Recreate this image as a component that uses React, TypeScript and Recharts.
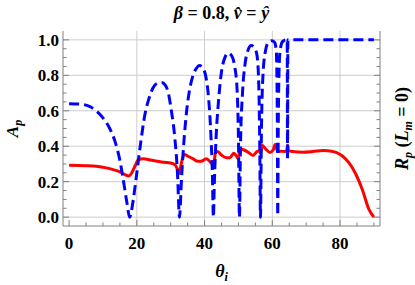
import React from "react";
import { LineChart, Line, XAxis, YAxis, CartesianGrid, Label } from "recharts";

// A_p (blue dashed) vs theta_i
const apTheta = [
  0, 3, 6, 8, 10, 12, 13.5, 15, 16, 17, 17.9, 18.8, 19.8, 21, 22.4, 23.6, 24.8, 26, 27.3, 28.4,
  29.3, 30.2, 31.2, 32, 32.6, 33.2, 33.8, 34.6, 35.5, 36.6, 37.6, 38.5, 39.5, 40.4, 41.2, 41.9,
  42.3, 42.6, 42.9, 43.4, 44.1, 45, 46, 47, 48, 48.9, 49.6, 50, 50.3, 50.6, 51.2, 52, 52.8, 53.8,
  54.8, 55.5, 56, 56.3, 56.5, 56.8, 57.3, 58, 58.8, 59.8, 60.7, 61.2, 61.5, 61.6, 61.8, 62.2, 63,
  64, 64.4, 64.5, 64.6, 66, 70, 80, 90,
];
const apValues = [
  0.64, 0.638, 0.625, 0.6, 0.56, 0.5, 0.43, 0.32, 0.21, 0.09, 0.0, 0.08, 0.22, 0.4, 0.58, 0.67,
  0.73, 0.755, 0.76, 0.745, 0.7, 0.6, 0.45, 0.25, 0.0, 0.22, 0.4, 0.58, 0.71, 0.8, 0.84, 0.855,
  0.84, 0.79, 0.67, 0.45, 0.25, 0.0, 0.2, 0.45, 0.65, 0.82, 0.9, 0.925, 0.91, 0.85, 0.72, 0.45,
  0.0, 0.4, 0.7, 0.87, 0.94, 0.968, 0.955, 0.91, 0.75, 0.4, 0.0, 0.5, 0.82, 0.94, 0.985, 0.995,
  0.985, 0.93, 0.5, 0.01, 0.6, 0.92, 0.99, 1.0, 1.0, 0.33, 1.0, 1.0, 1.0, 1.0, 1.0,
];

// R_p (red solid) vs theta_i
const rpTheta = [
  0, 5, 8, 11, 13, 15, 16.5, 17.6, 18.5, 19.5, 20.5, 22, 24, 26, 28, 30, 31.3, 32, 32.5, 33.1, 34,
  35, 36.5, 38, 39, 40.5, 41.5, 42.2, 42.6, 43.2, 43.8, 45, 46.5, 47.5, 48.6, 49.4, 50, 50.4, 51.5,
  53, 54.3, 55.5, 56.2, 56.5, 57, 58, 59.3, 60.3, 60.8, 61.4, 61.6, 62.5, 63.8, 64.3, 64.5, 64.8,
  66, 69, 72, 75, 77.5, 79, 80.7, 82.6, 84.6, 86.6, 88.5, 90,
];
const rpValues = [
  0.292, 0.29, 0.287, 0.278, 0.268, 0.255, 0.24, 0.232, 0.25, 0.29, 0.325, 0.33, 0.322, 0.315,
  0.31, 0.305, 0.295, 0.27, 0.245, 0.3, 0.354, 0.345, 0.33, 0.315, 0.315, 0.33, 0.315, 0.3, 0.285,
  0.36, 0.37, 0.35, 0.335, 0.335, 0.36, 0.345, 0.33, 0.385, 0.38, 0.365, 0.348, 0.37, 0.375, 0.36,
  0.405, 0.385, 0.365, 0.38, 0.41, 0.38, 0.37, 0.372, 0.37, 0.38, 0.405, 0.375, 0.37, 0.366, 0.37,
  0.376, 0.372, 0.364, 0.345, 0.307, 0.245, 0.155, 0.045, 0.0,
];

const xMajor = [0, 20, 40, 60, 80];
const xTicks = [0, 5, 10, 15, 20, 25, 30, 35, 40, 45, 50, 55, 60, 65, 70, 75, 80, 85, 90];
const yMajor = [0, 0.2, 0.4, 0.6, 0.8, 1.0];
const yTicks = [
  0, 0.05, 0.1, 0.15, 0.2, 0.25, 0.3, 0.35, 0.4, 0.45, 0.5, 0.55, 0.6, 0.65, 0.7, 0.75, 0.8, 0.85,
  0.9, 0.95, 1.0,
];
const xGrid = [20, 40, 60, 80];

const apData = apTheta.map((t, i) => ({ theta: t, ap: apValues[i] }));
const rpData = rpTheta.map((t, i) => ({ theta: t, rp: rpValues[i] }));

const FONT = "'Liberation Serif', 'Times New Roman', serif";
const FRAME = "#808080";
const MAJOR_LEN = 6;
const MINOR_LEN = 3.5;

const isMajor = (v: number, majors: number[]) => majors.some((m) => Math.abs(m - v) < 1e-6);

const BottomTick = (props: any) => {
  const { x, y, payload } = props;
  const major = isMajor(payload.value, xMajor);
  return (
    <g>
      <line x1={x} x2={x} y1={y} y2={y - (major ? MAJOR_LEN : MINOR_LEN)} stroke={FRAME} />
      {major && (
        <text x={x} y={y + 23} textAnchor="middle" fontFamily={FONT} fontWeight="bold" fontSize={17} fill="#000">
          {payload.value}
        </text>
      )}
    </g>
  );
};

const TopTick = (props: any) => {
  const { x, y, payload } = props;
  const major = isMajor(payload.value, xMajor);
  return <line x1={x} x2={x} y1={y} y2={y + (major ? MAJOR_LEN : MINOR_LEN)} stroke={FRAME} />;
};

const LeftTick = (props: any) => {
  const { x, y, payload } = props;
  const major = isMajor(payload.value, yMajor);
  return (
    <g>
      <line x1={x} x2={x + (major ? MAJOR_LEN : MINOR_LEN)} y1={y} y2={y} stroke={FRAME} />
      {major && (
        <text x={x - 4} y={y + 6} textAnchor="end" fontFamily={FONT} fontWeight="bold" fontSize={17} fill="#000">
          {Number(payload.value).toFixed(1)}
        </text>
      )}
    </g>
  );
};

const RightTick = (props: any) => {
  const { x, y, payload } = props;
  const major = isMajor(payload.value, yMajor);
  return <line x1={x} x2={x - (major ? MAJOR_LEN : MINOR_LEN)} y1={y} y2={y} stroke={FRAME} />;
};

const XTitle = (props: any) => {
  const vb = props.viewBox || { x: 63, width: 317 };
  const cx = vb.x + vb.width / 2;
  return (
    <text x={cx} y={277} textAnchor="middle" fontFamily={FONT} fontWeight="bold" fontStyle="italic" fontSize={18} fill="#000">
      <tspan>θ</tspan>
      <tspan dy={4} fontSize={12}>i</tspan>
    </text>
  );
};

// left axis label plus the plot title, centred over the frame
const LeftTitle = (props: any) => {
  const vb = props.viewBox || { y: 31, height: 195 };
  const cy = vb.y + vb.height / 2;
  const bx = 17.5;
  const titleX = 221.5;
  return (
    <g>
      <text x={bx} y={cy} transform={`rotate(-90, ${bx}, ${cy})`} textAnchor="middle" fontFamily={FONT} fontWeight="bold" fontStyle="italic" fontSize={17} fill="#000">
        <tspan>A</tspan>
        <tspan dy={4} fontSize={12}>p</tspan>
      </text>
      <text x={titleX} y={19} textAnchor="middle" fontFamily={FONT} fontWeight="bold" fontSize={18} fill="#000">
        <tspan fontStyle="italic">β</tspan>
        <tspan> = 0.8,  </tspan>
        <tspan fontStyle="italic">{"v\u0302"}</tspan>
        <tspan> = </tspan>
        <tspan fontStyle="italic">ŷ</tspan>
      </text>
    </g>
  );
};

const RightTitle = (props: any) => {
  const vb = props.viewBox || { y: 31, height: 195 };
  const cy = vb.y + vb.height / 2;
  const bx = 408;
  return (
    <text x={bx} y={cy} transform={`rotate(-90, ${bx}, ${cy})`} textAnchor="middle" fontFamily={FONT} fontWeight="bold" fontSize={18} fill="#000">
      <tspan fontStyle="italic">R</tspan>
      <tspan dy={4} fontSize={12} fontStyle="italic">p</tspan>
      <tspan dy={-4}> (</tspan>
      <tspan fontStyle="italic">L</tspan>
      <tspan dy={4} fontSize={12} fontStyle="italic">m</tspan>
      <tspan dy={-4}> = 0)</tspan>
    </text>
  );
};

export default function App() {
  return (
    <div style={{ position: "absolute", left: 0, top: 0, width: 415, height: 285, background: "#fff" }}>
      <LineChart width={415} height={285} margin={{ top: 31, right: 0, bottom: 0, left: 0 }}>
        <CartesianGrid stroke="#cccccc" strokeWidth={1} horizontalValues={yMajor} verticalValues={xGrid} />
        <XAxis
          xAxisId={0}
          type="number"
          dataKey="theta"
          domain={[-1.8, 91.8]}
          ticks={xTicks}
          interval={0}
          height={59}
          tickSize={0}
          tickMargin={0}
          tickLine={false}
          axisLine={{ stroke: FRAME }}
          tick={<BottomTick />}
          allowDataOverflow
        >
          <Label content={<XTitle />} />
        </XAxis>
        <XAxis
          xAxisId="top"
          orientation="top"
          type="number"
          dataKey="theta"
          domain={[-1.8, 91.8]}
          ticks={xTicks}
          interval={0}
          height={0}
          tickSize={0}
          tickMargin={0}
          tickLine={false}
          axisLine={{ stroke: FRAME }}
          tick={<TopTick />}
          allowDataOverflow
        />
        <YAxis
          yAxisId={0}
          type="number"
          domain={[-0.05, 1.05]}
          ticks={yTicks}
          interval={0}
          width={63}
          tickSize={0}
          tickMargin={0}
          tickLine={false}
          axisLine={{ stroke: FRAME }}
          tick={<LeftTick />}
          allowDataOverflow
        >
          <Label content={<LeftTitle />} />
        </YAxis>
        <YAxis
          yAxisId="right"
          orientation="right"
          type="number"
          domain={[-0.05, 1.05]}
          ticks={yTicks}
          interval={0}
          width={35}
          tickSize={0}
          tickMargin={0}
          tickLine={false}
          axisLine={{ stroke: FRAME }}
          tick={<RightTick />}
          allowDataOverflow
        >
          <Label content={<RightTitle />} />
        </YAxis>
        <Line
          data={rpData}
          dataKey="rp"
          xAxisId={0}
          yAxisId={0}
          type="monotoneX"
          stroke="#ff0000"
          strokeWidth={3}
          dot={false}
          isAnimationActive={false}
        />
        <Line
          data={apData}
          dataKey="ap"
          xAxisId={0}
          yAxisId={0}
          type="monotoneX"
          stroke="#0000ff"
          strokeWidth={3}
          strokeDasharray="10 5"
          dot={false}
          isAnimationActive={false}
        />
      </LineChart>
    </div>
  );
}
